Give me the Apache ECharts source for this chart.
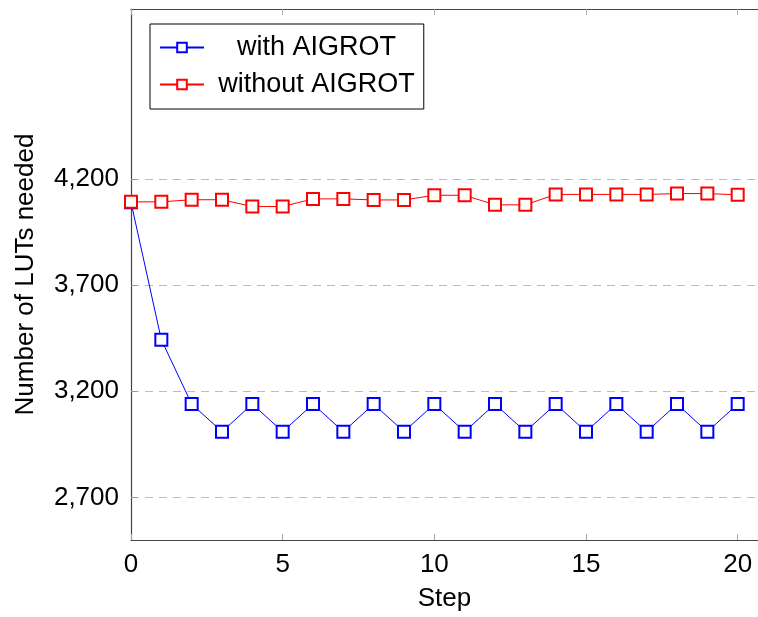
<!DOCTYPE html>
<html>
<head>
<meta charset="utf-8">
<script src="https://cdn.jsdelivr.net/npm/echarts@6/dist/echarts.min.js"></script>
<style>
html,body{margin:0;padding:0;background:#fff;}
#chart{width:758px;height:617px;}
</style>
</head>
<body>
<div id="chart"></div>
<script>
const steps = [0,1,2,3,4,5,6,7,8,9,10,11,12,13,14,15,16,17,18,19,20];
const withAigrot = [4090,3443,3140,3010,3140,3010,3140,3010,3140,3010,3140,3010,3140,3010,3140,3010,3140,3010,3140,3010,3140];
const withoutAigrot = [4092,4092,4102,4102,4070,4070,4106,4106,4101,4101,4123,4123,4078,4078,4127,4127,4127,4127,4131,4131,4125];
const yTicks = [2700,3200,3700,4200];
const xTicks = [0,5,10,15,20];

const FONT = '"Liberation Sans", Arial, sans-serif';
const chart = echarts.init(document.getElementById('chart'), null, {renderer:'canvas'});

function pairs(vals){ return steps.map((s,i)=>[s, vals[i]]); }

const option = {
  animation:false,
  backgroundColor:'#fff',
  textStyle:{fontFamily:FONT},
  grid:{left:131, top:9, right:0, bottom:76},
  legend:{
    orient:'vertical',
    left:150, top:24,
    padding:[10,9,11,9],
    itemGap:10,
    itemWidth:44, itemHeight:12,
    borderColor:'#000', borderWidth:1,
    backgroundColor:'#fff',
    formatter: n => '{a|' + n + '}',
    textStyle:{fontFamily:FONT, fontSize:27, color:'#000', rich:{a:{width:215, align:'center', fontSize:27, fontFamily:FONT, color:'#000'}}},
    data:['with AIGROT','without AIGROT']
  },
  xAxis:[{
    type:'value', min:0, max:20.67,
    name:'Step', nameLocation:'middle', nameGap:46,
    nameTextStyle:{fontFamily:FONT, fontSize:26, color:'#000'},
    axisLine:{show:true, onZero:false, lineStyle:{color:'#444', width:1.2}},
    axisTick:{show:true, inside:true, length:6, customValues:xTicks, lineStyle:{color:'#aaa'}},
    axisLabel:{fontFamily:FONT, fontSize:26, color:'#000', margin:12, customValues:xTicks},
    splitLine:{show:false}
  },{
    type:'value', min:0, max:20.67, position:'top',
    axisLine:{show:true, onZero:false, lineStyle:{color:'#444', width:1.2}},
    axisTick:{show:true, inside:true, length:6, customValues:xTicks, lineStyle:{color:'#aaa'}},
    axisLabel:{show:false},
    splitLine:{show:false}
  }],
  yAxis:[{
    type:'value', min:2500, max:5000,
    name:'Number of LUTs needed', nameLocation:'middle', nameGap:92,
    nameTextStyle:{fontFamily:FONT, fontSize:26, color:'#000'},
    axisLine:{show:true, onZero:false, lineStyle:{color:'#444', width:1.2}},
    axisTick:{show:true, inside:true, length:6, customValues:yTicks, lineStyle:{color:'#999'}},
    axisLabel:{fontFamily:FONT, fontSize:26, color:'#000', margin:12, customValues:yTicks,
      formatter: v => v.toLocaleString('en-US')},
    splitLine:{show:true, lineStyle:{color:'#bbb', type:[8,6], width:1}}
  }],
  series:[{
    name:'with AIGROT', type:'line', data:pairs(withAigrot),
    symbol:'emptyRect', symbolSize:12, showAllSymbol:true,
    lineStyle:{color:'#0000ff', width:1},
    itemStyle:{color:'#0000ff', borderColor:'#0000ff', borderWidth:1},
    z:3
  },{
    name:'without AIGROT', type:'line', data:pairs(withoutAigrot),
    symbol:'emptyRect', symbolSize:12, showAllSymbol:true,
    lineStyle:{color:'#ff0000', width:1},
    itemStyle:{color:'#ff0000', borderColor:'#ff0000', borderWidth:1},
    z:4
  }]
};
chart.setOption(option);
</script>
</body>
</html>
